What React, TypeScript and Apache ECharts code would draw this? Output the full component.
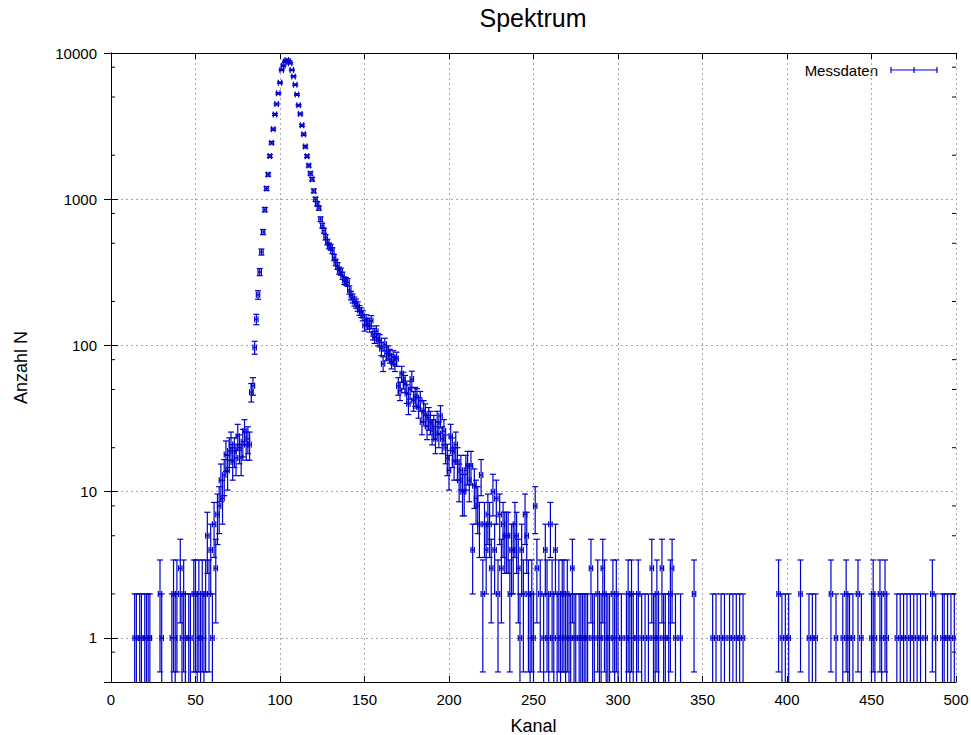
import React, { useEffect, useRef } from 'react';
import * as echarts from 'echarts';

// ---- data: counts per channel (0 = empty channel, not drawn on log axis) ----
const RISE_START = 10;
const riseCounts = [
  0, 0, 0, 0, 1, 1, 0, 1, 1, 0,
  1, 1, 1, 1, 0, 0, 0, 0, 0, 2,
  1, 0, 0, 0, 0, 0, 1, 2, 1, 2,
  0, 3, 1, 2, 1, 0, 1, 1, 0, 2,
  2, 1, 2, 1, 2, 1, 2, 5, 2, 4,
  1, 6, 3, 7, 8, 12, 9, 13, 18, 14,
  19, 21, 16, 19, 17, 24, 20, 17, 22, 26,
  21, 23, 21,
];

const PEAK_START = 83;
const peakCounts = [
  48, 53, 97, 151, 222, 318, 436,
  597, 849, 1183, 1475, 1972, 2431, 3015, 3803, 4475, 5300,
  6270, 7660, 8190, 8700, 8960, 8800, 8500, 7660, 6920, 6070,
  5200, 4390, 3830, 3200, 2780, 2290, 1970, 1700, 1500, 1370,
  1140, 1000, 930, 870, 730, 660, 610, 550, 510, 480,
  470, 445, 400, 370, 350, 325, 320, 300, 278, 275, 270,
];

const DECAY_START = 141;
const decayCounts = [
  240, 220, 210, 200, 194, 185, 174, 168, 160, 137,
  150, 141, 135, 148, 120, 114, 125, 110, 108, 95,
  75, 102, 88, 90, 85, 78, 83, 75, 81, 53,
  49, 64, 58, 55, 47, 40, 50, 59, 42, 45,
  44, 38, 42, 30, 36, 34, 28, 32, 30, 26,
  28, 23, 30, 25, 33, 23, 26, 20, 17, 14,
  24, 19, 16, 21, 16, 12, 14, 10, 10, 14,
  15, 12, 15, 4, 11, 9, 8, 6, 13, 2,
  6, 4, 7, 6, 3, 10, 4, 9, 2, 7,
  3, 6, 5, 5, 5, 2, 4, 4, 6, 5,
  3, 1, 4, 2, 7, 5, 2, 1, 2, 1,
];

const TAIL_START = 251;
const tailCounts = [
  8, 3, 0, 2, 0, 1, 4, 2, 1, 6,
  2, 1, 4, 1, 2, 1, 2, 2, 1, 2,
  1, 1, 3, 1, 1, 0, 1, 1, 1, 1,
  1, 1, 0, 3, 1, 1, 0, 2, 1, 1,
  3, 2, 1, 1, 1, 0, 2, 1, 2, 1,
  0, 1, 0, 0, 1, 2, 1, 2, 1, 0,
  1, 2, 0, 1, 0, 1, 0, 1, 0, 3,
  1, 1, 2, 1, 0, 3, 1, 1, 0, 1,
  2, 3, 0, 1, 0, 0, 1, 0, 0, 0,
  0, 0, 0, 0, 2, 0, 0, 0, 0, 0,
  0, 0, 0, 0, 0, 1, 0, 1, 0, 0,
  1, 0, 1, 0, 0, 1, 0, 1, 0, 1,
  0, 1, 0, 1, 0, 0, 0, 0, 0, 0,
  0, 0, 0, 0, 0, 0, 0, 0, 0, 0,
  0, 0, 0, 0, 2, 0, 1, 0, 1, 0,
  1, 0, 0, 0, 0, 0, 0, 2, 0, 0,
  0, 0, 1, 0, 1, 0, 1, 0, 0, 0,
  0, 0, 0, 0, 0, 2, 0, 0, 1, 0,
  0, 0, 1, 0, 2, 1, 1, 0, 1, 0,
  0, 2, 0, 1, 0, 0, 0, 0, 0, 1,
  2, 1, 0, 0, 2, 1, 0, 2, 1, 0,
  0, 0, 0, 0, 1, 0, 1, 0, 1, 0,
  1, 0, 1, 0, 1, 0, 1, 0, 1, 0,
  0, 1, 0, 0, 0, 2, 0, 1, 0, 0,
  0, 1, 1, 0, 1, 0, 1, 0, 1, 0,
];

const X_ERROR = 1; // channel half-width of horizontal error bar
const yMinorTickValues = [0.8, 2, 5, 8, 20, 50, 80, 200, 500, 800, 2000, 5000, 8000];

const TITLE = 'Spektrum';
const X_NAME = 'Kanal';
const Y_NAME = 'Anzahl N';
const LEGEND_NAME = 'Messdaten';

// ---- styles ----
const FONT = "'Liberation Sans', Arial, sans-serif";
const BLUE = '#0000cc';
const GRID_COLOR = '#a8a8a8';
const CAP = 3;
const BAR_WIDTH = 1.2;

function segment(start: number, counts: number[]): number[][] {
  return counts
    .map((n, i) => [start + i, n])
    .filter((d) => d[1] > 0);
}

const measured = [
  ...segment(RISE_START, riseCounts),
  ...segment(PEAK_START, peakCounts),
  ...segment(DECAY_START, decayCounts),
  ...segment(TAIL_START, tailCounts),
];

function buildOption() {
  const errorBarItem = (params: any, api: any) => {
    const x = api.value(0) as number;
    const n = api.value(1) as number;
    const e = Math.sqrt(n);
    const cs = params.coordSys;
    const bottom = cs.y + cs.height;
    const c = api.coord([x, n]);
    const top = api.coord([x, n + e])[1];
    const lo = n - e;
    const low = lo > 0 ? api.coord([x, lo])[1] : bottom + 5;
    const xl = api.coord([x - X_ERROR, n])[0];
    const xr = api.coord([x + X_ERROR, n])[0];
    const style = { stroke: BLUE, lineWidth: BAR_WIDTH, fill: null };
    const children: any[] = [
      { type: 'line', shape: { x1: c[0], y1: top, x2: c[0], y2: low }, style },
      { type: 'line', shape: { x1: c[0] - CAP, y1: top, x2: c[0] + CAP, y2: top }, style },
      { type: 'line', shape: { x1: xl, y1: c[1], x2: xr, y2: c[1] }, style },
      { type: 'line', shape: { x1: xl, y1: c[1] - CAP, x2: xl, y2: c[1] + CAP }, style },
      { type: 'line', shape: { x1: xr, y1: c[1] - CAP, x2: xr, y2: c[1] + CAP }, style },
    ];
    if (lo > 0) {
      children.push({ type: 'line', shape: { x1: c[0] - CAP, y1: low, x2: c[0] + CAP, y2: low }, style });
    }
    return { type: 'group', children };
  };

  const minorTickItem = (params: any, api: any) => {
    const v = api.value(1) as number;
    const cs = params.coordSys;
    const y = api.coord([0, v])[1];
    const style = { stroke: '#000', lineWidth: 1 };
    return {
      type: 'group',
      children: [
        { type: 'line', shape: { x1: cs.x, y1: y, x2: cs.x + 4, y2: y }, style },
        { type: 'line', shape: { x1: cs.x + cs.width - 4, y1: y, x2: cs.x + cs.width, y2: y }, style },
      ],
    };
  };

  const axisLine = { show: true, lineStyle: { color: '#000', width: 1 } };
  const splitLine = { show: true, lineStyle: { color: GRID_COLOR, width: 1, type: [2, 3] } };

  return {
    animation: false,
    backgroundColor: '#fff',
    title: {
      text: TITLE,
      left: 528,
      textAlign: 'center',
      top: 0,
      textStyle: { fontFamily: FONT, fontSize: 25, fontWeight: 'normal', color: '#000' },
    },
    grid: {
      left: 111,
      right: 15,
      top: 53,
      bottom: 53,
      containLabel: false,
      outerBoundsMode: 'none',
    },
    xAxis: [
      {
        type: 'value',
        min: 0,
        max: 500,
        interval: 50,
        position: 'bottom',
        name: X_NAME,
        nameLocation: 'middle',
        nameGap: 35,
        nameTextStyle: { fontFamily: FONT, fontSize: 18, color: '#000' },
        axisLine,
        axisTick: { show: true, inside: true, length: 6, lineStyle: { color: '#000' } },
        axisLabel: { fontFamily: FONT, fontSize: 15, color: '#000', margin: 10 },
        splitLine,
      },
      {
        type: 'value',
        min: 0,
        max: 500,
        interval: 50,
        position: 'top',
        axisLine,
        axisTick: { show: true, inside: true, length: 6, lineStyle: { color: '#000' } },
        axisLabel: { show: false },
        splitLine: { show: false },
      },
    ],
    yAxis: [
      {
        type: 'log',
        logBase: 10,
        min: 0.5,
        max: 10000,
        position: 'left',
        name: Y_NAME,
        nameLocation: 'middle',
        nameGap: 81,
        nameTextStyle: { fontFamily: FONT, fontSize: 18, color: '#000' },
        axisLine,
        axisTick: { show: true, inside: true, length: 7, lineStyle: { color: '#000' } },
        axisLabel: {
          fontFamily: FONT,
          fontSize: 15,
          color: '#000',
          margin: 14,
          showMinLabel: false,
          formatter: (v: number) => (v < 1 ? '' : String(Math.round(v))),
        },
        splitLine,
      },
      {
        type: 'log',
        logBase: 10,
        min: 0.5,
        max: 10000,
        position: 'right',
        axisLine,
        axisTick: { show: true, inside: true, length: 7, lineStyle: { color: '#000' } },
        axisLabel: { show: false },
        splitLine: { show: false },
      },
    ],
    series: [
      {
        type: 'custom',
        name: 'minorTicks',
        xAxisIndex: 0,
        yAxisIndex: 0,
        silent: true,
        data: yMinorTickValues.map((v) => [0, v]),
        encode: { x: 0, y: 1 },
        renderItem: minorTickItem,
        z: 5,
      },
      {
        type: 'custom',
        name: LEGEND_NAME,
        xAxisIndex: 0,
        yAxisIndex: 0,
        clip: true,
        data: measured,
        encode: { x: 0, y: 1 },
        renderItem: errorBarItem,
        z: 3,
      },
    ],
    graphic: [
      {
        type: 'text',
        x: 878,
        y: 70,
        style: {
          text: LEGEND_NAME,
          fontFamily: FONT,
          fontSize: 15,
          fill: '#000',
          align: 'right',
          verticalAlign: 'middle',
        },
      },
      { type: 'line', shape: { x1: 891, y1: 70, x2: 937, y2: 70 }, style: { stroke: BLUE, lineWidth: BAR_WIDTH } },
      { type: 'line', shape: { x1: 891, y1: 67, x2: 891, y2: 73 }, style: { stroke: BLUE, lineWidth: BAR_WIDTH } },
      { type: 'line', shape: { x1: 914, y1: 67, x2: 914, y2: 73 }, style: { stroke: BLUE, lineWidth: BAR_WIDTH } },
      { type: 'line', shape: { x1: 937, y1: 67, x2: 937, y2: 73 }, style: { stroke: BLUE, lineWidth: BAR_WIDTH } },
    ],
  };
}

export default function App() {
  const ref = useRef<HTMLDivElement>(null);
  useEffect(() => {
    if (!ref.current) return;
    const chart = echarts.init(ref.current, null, { renderer: 'svg' });
    chart.setOption(buildOption() as any);
    return () => chart.dispose();
  }, []);
  return (
    <div
      ref={ref}
      style={{ position: 'absolute', left: 0, top: 0, width: 971, height: 735, background: '#fff' }}
    />
  );
}
